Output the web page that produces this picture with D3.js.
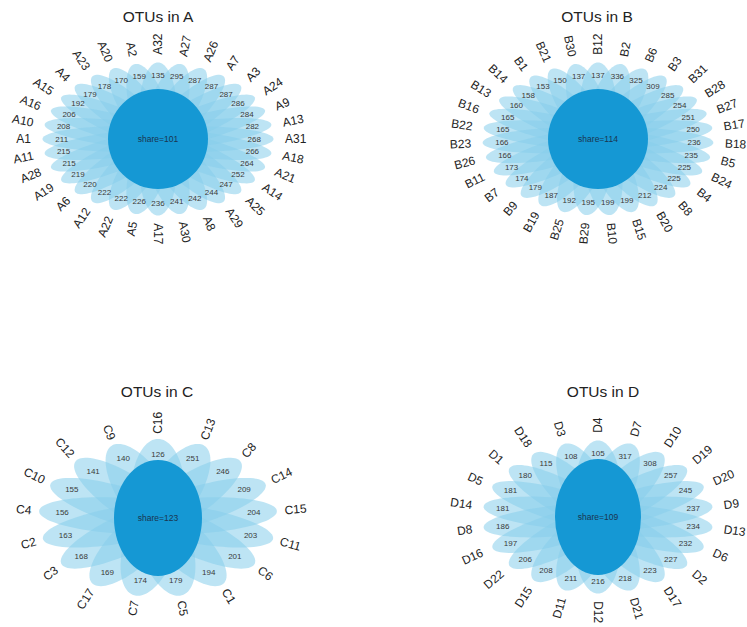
<!DOCTYPE html>
<html>
<head>
<meta charset="utf-8">
<script src="https://cdn.jsdelivr.net/npm/d3@7"></script>
<style>
  body { margin: 0; background: #fff; }
  svg text { font-family: "Liberation Sans", Arial, sans-serif; }
</style>
</head>
<body>
<div id="chart"></div>
<script>
// sample names and OTU counts, counterclockwise starting from the top petal
const samplesA = ['A32','A2','A20','A23','A4','A15','A16','A10','A1','A11','A28','A19','A6','A12','A22','A5','A17','A30','A8','A29','A25','A14','A21','A18','A31','A13','A9','A24','A3','A7','A26','A27'];
const otusA = [135,159,170,178,179,192,206,208,211,215,215,219,220,222,222,226,236,241,242,244,247,252,264,266,268,282,284,286,287,287,287,295];
const coreA = 101;

const samplesB = ['B12','B30','B21','B1','B14','B13','B16','B22','B23','B26','B11','B7','B9','B19','B25','B29','B10','B15','B20','B8','B4','B24','B5','B18','B17','B27','B28','B31','B3','B6','B2'];
const otusB = [137,137,150,153,158,160,165,165,166,166,173,174,179,187,192,195,199,199,212,224,225,225,235,236,250,251,254,285,309,325,336];
const coreB = 114;

const samplesC = ['C16','C9','C12','C10','C4','C2','C3','C17','C7','C5','C1','C6','C11','C15','C14','C8','C13'];
const otusC = [126,140,141,155,156,163,168,169,174,179,194,201,203,204,209,246,251];
const coreC = 123;

const samplesD = ['D4','D3','D18','D1','D5','D14','D8','D16','D22','D15','D11','D12','D21','D17','D2','D6','D13','D9','D20','D19','D10','D7'];
const otusD = [105,108,115,180,181,181,186,197,206,208,211,216,218,223,227,232,234,237,245,257,308,317];
const coreD = 109;

const width = 747, height = 627;
const sx = 38.5, sy = 25.5;   // pixels per plot unit

const panels = [
  {title: 'OTUs in A', samples: samplesA, otus: otusA, core: coreA, cx: 158, cy: 139, tx: 158, ty: 17, a: 2, b: 0.5, crx: 50, cry: 50},
  {title: 'OTUs in B', samples: samplesB, otus: otusB, core: coreB, cx: 598, cy: 139, tx: 597, ty: 17, a: 2, b: 0.5, crx: 50, cry: 50},
  {title: 'OTUs in C', samples: samplesC, otus: otusC, core: coreC, cx: 158, cy: 518, tx: 157, ty: 392, a: 2.1, b: 0.7, crx: 44, cry: 58},
  {title: 'OTUs in D', samples: samplesD, otus: otusD, core: coreD, cx: 598, cy: 517, tx: 603, ty: 392, a: 2, b: 0.6, crx: 43, cry: 58}
];

const svg = d3.select('#chart').append('svg')
    .attr('width', width)
    .attr('height', height);

panels.forEach(p => {
  const n = p.samples.length;
  const deg = 360 / n;
  const x = d3.scaleLinear().domain([-1, 1]).range([p.cx - sx, p.cx + sx]);
  const y = d3.scaleLinear().domain([-1, 1]).range([p.cy + sy, p.cy - sy]);
  const rad = i => (90 + deg * i) * Math.PI / 180;
  const line = d3.line().curve(d3.curveLinearClosed);

  const g = svg.append('g');

  // petals: ellipses centred one unit out, long axis along the radius
  g.selectAll('path.petal')
    .data(p.samples)
    .enter()
    .append('path')
    .attr('class', 'petal')
    .attr('d', (d, i) => {
      const phi = rad(i);
      const pts = d3.range(0, 90).map(k => {
        const s = k / 90 * 2 * Math.PI;
        const r = 1 + p.a * Math.cos(s);
        const w = p.b * Math.sin(s);
        return [x(r * Math.cos(phi) - w * Math.sin(phi)), y(r * Math.sin(phi) + w * Math.cos(phi))];
      });
      return line(pts);
    })
    .attr('fill', '#87ceeb')
    .attr('fill-opacity', 0.55);

  // OTU counts
  g.selectAll('text.num')
    .data(p.otus)
    .enter()
    .append('text')
    .attr('class', 'num')
    .attr('x', (d, i) => x(2.5 * Math.cos(rad(i))))
    .attr('y', (d, i) => y(2.5 * Math.sin(rad(i))))
    .attr('dy', '0.35em')
    .attr('text-anchor', 'middle')
    .attr('font-size', 8)
    .attr('fill', '#3a3a3a')
    .text(d => d);

  // sample names
  g.selectAll('text.lab')
    .data(p.samples)
    .enter()
    .append('text')
    .attr('class', 'lab')
    .attr('transform', (d, i) => {
      const ang = Math.round(deg * i * 1e6) / 1e6;
      const srt = (ang > 0 && ang < 180) ? ang - 90 : ang + 90;
      return 'translate(' + x(3.3 * Math.cos(rad(i))) + ',' + y(3.3 * Math.sin(rad(i))) + ') rotate(' + (-srt) + ')';
    })
    .attr('text-anchor', (d, i) => {
      const ang = Math.round(deg * i * 1e6) / 1e6;
      return (ang > 0 && ang < 180) ? 'end' : 'start';
    })
    .attr('dy', '0.35em')
    .attr('font-size', 12)
    .attr('fill', '#222')
    .text(d => d);

  // shared core
  g.append('ellipse')
    .attr('cx', x(0))
    .attr('cy', y(0))
    .attr('rx', p.crx)
    .attr('ry', p.cry)
    .attr('fill', '#1598d4');

  g.append('text')
    .attr('x', x(0))
    .attr('y', y(0))
    .attr('dy', '0.35em')
    .attr('text-anchor', 'middle')
    .attr('font-size', 8.5)
    .attr('fill', '#1a3550')
    .text('share=' + p.core);

  svg.append('text')
    .attr('x', p.tx)
    .attr('y', p.ty)
    .attr('dy', '0.35em')
    .attr('text-anchor', 'middle')
    .attr('font-size', 15.5)
    .attr('fill', '#222')
    .text(p.title);
});
</script>
</body>
</html>
